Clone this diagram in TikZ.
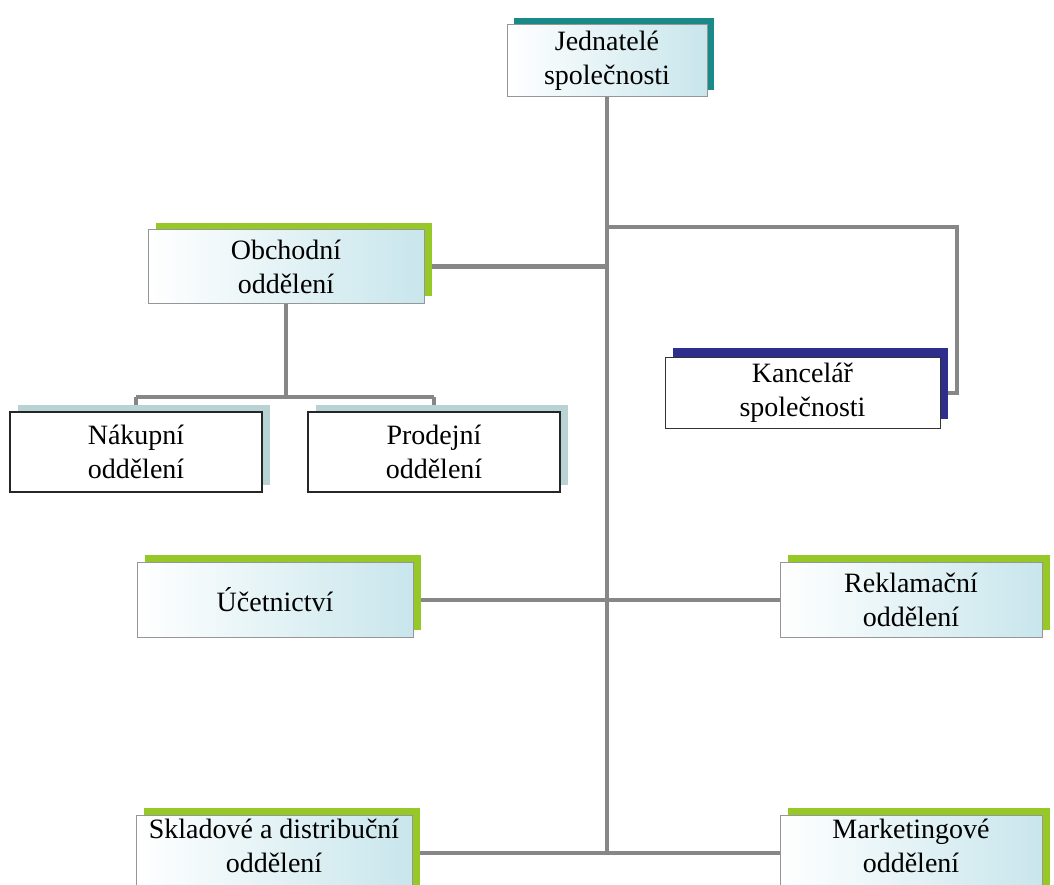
\documentclass[tikz,border=0pt]{standalone}
\usepackage{fontspec}
\setmainfont{Liberation Serif}
\usetikzlibrary{shadows,backgrounds}
\definecolor{tealc}{RGB}{26,138,136}
\definecolor{greenc}{RGB}{150,200,40}
\definecolor{navyc}{RGB}{46,46,140}
\definecolor{graybl}{RGB}{185,210,212}
\definecolor{lcyan}{RGB}{200,230,236}
\definecolor{conn}{RGB}{135,135,135}
\definecolor{fborder}{RGB}{150,150,150}
\tikzset{
  base/.style={rectangle, inner sep=0pt, align=center, text=black,
    font=\fontsize{28}{34}\selectfont},
  gradbox/.style={base, draw=fborder, line width=1pt, left color=white, right color=lcyan},
  greenbox/.style={gradbox, general shadow={fill=greenc, shadow xshift=8pt, shadow yshift=7pt}},
  tealbox/.style={gradbox, general shadow={fill=tealc, shadow xshift=7pt, shadow yshift=7pt}},
  plainbox/.style={base, draw=black!85, line width=1.5pt, fill=white,
    general shadow={fill=graybl, shadow xshift=8pt, shadow yshift=7pt}},
  navybox/.style={base, draw=black!80, line width=1pt, fill=white,
    general shadow={fill=navyc, shadow xshift=8pt, shadow yshift=9pt}},
  txt/.style={base},
  link/.style={draw=conn, line width=4pt}
}
\begin{document}
\begin{tikzpicture}[x=1pt,y=-1pt]
\clip (0,0) rectangle (1054,885);
% boxes
\node[tealbox, minimum width=200pt, minimum height=72pt] (jed) at (607,61) {Jednatelé\\společnosti};
\node[greenbox, minimum width=276pt, minimum height=73pt] (obch) at (286,266.5) {Obchodní\\oddělení};
\node[plainbox, minimum width=252pt, minimum height=80pt] (nak) at (136,452) {Nákupní\\oddělení};
\node[plainbox, minimum width=252pt, minimum height=80pt] (prod) at (434,452) {Prodejní\\oddělení};
\node[navybox, minimum width=275pt, minimum height=71pt] (kanc) at (802.5,392.5) {Kancelář\\společnosti};
\node[greenbox, minimum width=276pt, minimum height=75pt] (ucet) at (275,599.5) {Účetnictví};
\node[greenbox, minimum width=262pt, minimum height=75pt] (rekl) at (911,599.5) {Reklamační\\oddělení};
\node[greenbox, minimum width=276pt, minimum height=90pt] (skl) at (274,860) {};
\node[greenbox, minimum width=262pt, minimum height=90pt] (mark) at (911,860) {};
\node[txt] (skltxt) at (274,846) {Skladové a distribuční\\oddělení};
\node[txt] (marktxt) at (911,846) {Marketingové\\oddělení};
\coordinate (tbot) at (607,853);
\coordinate (kt) at (957,227);
\coordinate (obr) at (286,397);
\begin{pgfonlayer}{background}
\fill[white] (0,0) rectangle (1054,885);
\draw[link] (jed.south) -- (tbot);
\draw[link] (obch.east) -- (obch.east -| tbot);
\draw[link] (kt -| tbot) -- (kt) |- (kanc.east);
\draw[link] (obch.south) -- (obr);
\draw[link] (nak.north |- obr) -- (prod.north |- obr);
\draw[link] (nak.north |- obr) -- (nak.north);
\draw[link] (prod.north |- obr) -- (prod.north);
\draw[link] (ucet.east) -- (rekl.west);
\draw[link] (skl.east |- tbot) -- (mark.west |- tbot);
\end{pgfonlayer}
\end{tikzpicture}
\end{document}
